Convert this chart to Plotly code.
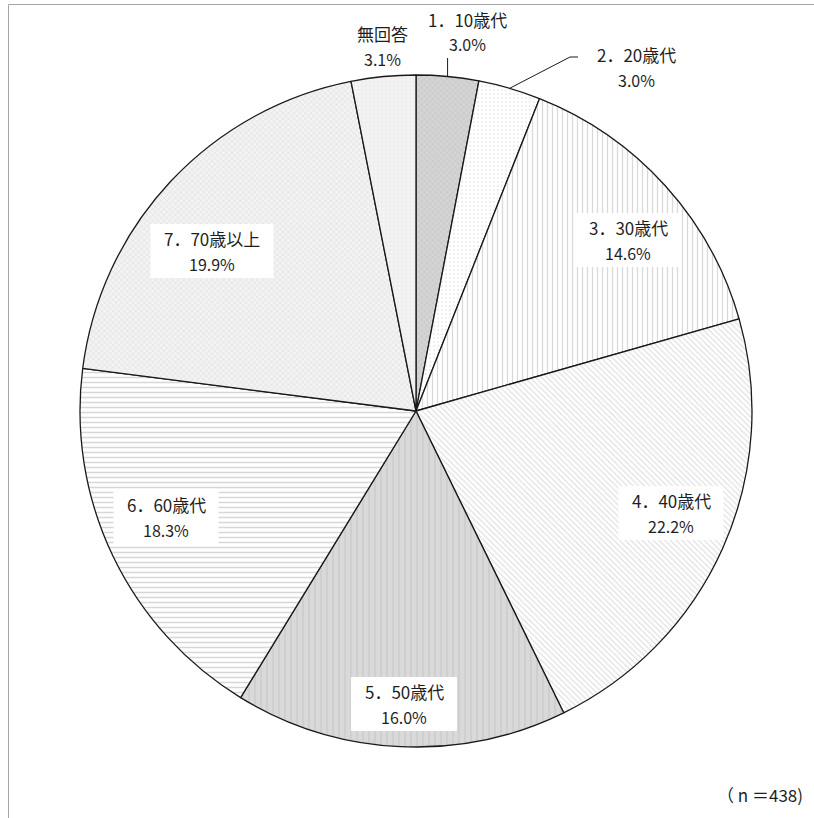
import math
import plotly.graph_objects as go

# data
labels = ["1．10歳代", "2．20歳代", "3．30歳代", "4．40歳代",
          "5．50歳代", "6．60歳代", "7．70歳以上", "無回答"]
values = [3.0, 3.0, 14.6, 22.2, 16.0, 18.3, 19.9, 3.1]
n_total = 438

# page / pie geometry (pixels)
W, H = 814, 818
CX, CY, R = 416, 411, 336

def px(x):
    return x / W

def py(y):
    return 1 - y / H

# slice styles
bg_colors = ["#d4d4d4", "#ffffff", "#ffffff", "#ffffff",
             "#d9d9d9", "#ffffff", "#f3f3f3", "#f4f4f4"]
fg_colors = ["#bcbcbc", "#d4d4d4", "#b4b4b4", "#c2c2c2",
             "#c6c6c6", "#b0b0b0", "#d4d4d4", "#e0e0e0"]
shapes_pat = ["x", ".", "|", "\\", "|", "-", "x", "+"]
sizes_pat = [4, 4, 5, 4, 6, 5, 4, 4]
solid_pat = [0.35, 0.18, 0.25, 0.3, 0.35, 0.3, 0.35, 0.3]

fig = go.Figure()
fig.add_trace(go.Pie(
    labels=labels,
    values=values,
    sort=False,
    direction="clockwise",
    rotation=0,
    textinfo="none",
    hoverinfo="label+percent",
    showlegend=False,
    domain=dict(x=[px(CX - R), px(CX + R)], y=[py(CY + R), py(CY - R)]),
    marker=dict(
        colors=bg_colors,
        line=dict(color="#1a1a1a", width=1.3),
        pattern=dict(shape=shapes_pat, fgcolor=fg_colors, bgcolor=bg_colors,
                     size=sizes_pat, solidity=solid_pat, fillmode="overlay"),
    ),
))

# ------------------------------------------------------
# labels (name + percentage), box centre in pixels
# ------------------------------------------------------
label_pos = [(467, 32), (636, 67), (628, 240), (671, 513),
             (404, 704), (166, 517), (212, 251), (382, 46)]
boxed = [False, False, True, True, True, True, True, False]
box_w = [0, 0, 104, 105, 106, 105, 123, 0]
BOX_H = 54
LINE_GAP = 12.5
TXT = "#1f1f1f"
FONT = "Noto Sans CJK JP"

annotations = []
shapes = []
for i, (lab, v) in enumerate(zip(labels, values)):
    x, y = label_pos[i]
    if boxed[i]:
        shapes.append(dict(type="rect", xref="paper", yref="paper",
                           x0=px(x - box_w[i] / 2), x1=px(x + box_w[i] / 2),
                           y0=py(y + BOX_H / 2), y1=py(y - BOX_H / 2),
                           fillcolor="white", line=dict(width=0), layer="above"))
    annotations.append(dict(x=px(x), y=py(y - LINE_GAP), xref="paper", yref="paper",
                            text=lab, showarrow=False,
                            font=dict(size=17, color=TXT, family=FONT),
                            xanchor="center", yanchor="middle"))
    annotations.append(dict(x=px(x), y=py(y + LINE_GAP), xref="paper", yref="paper",
                            text=f"{v:.1f}%", showarrow=False,
                            font=dict(size=16, color=TXT, family=FONT),
                            xanchor="center", yanchor="middle"))

# leader lines for the two small slices, starting at the slice mid-angle
total = sum(values)
def edge_point(idx):
    mid = sum(values[:idx]) + values[idx] / 2
    th = 2 * math.pi * mid / total
    return CX + R * math.sin(th), CY - R * math.cos(th)

x0, y0 = edge_point(0)
shapes.append(dict(type="line", xref="paper", yref="paper",
                   x0=px(x0), y0=py(y0), x1=px(x0), y1=py(58),
                   line=dict(color="#1a1a1a", width=1)))
x0, y0 = edge_point(1)
shapes.append(dict(type="path", xref="paper", yref="paper",
                   path=f"M {px(x0)},{py(y0)} L {px(570)},{py(57)} L {px(578)},{py(57)}",
                   line=dict(color="#1a1a1a", width=1)))

# outer frame (left and top edges are visible in the picture)
shapes.append(dict(type="line", xref="paper", yref="paper",
                   x0=px(8.5), x1=px(8.5), y0=0, y1=py(4.5),
                   line=dict(color="#a6a6a6", width=1)))
shapes.append(dict(type="line", xref="paper", yref="paper",
                   x0=px(8.5), x1=1, y0=py(4.5), y1=py(4.5),
                   line=dict(color="#a6a6a6", width=1)))

annotations.append(dict(x=px(805), y=py(794), xref="paper", yref="paper",
                        text=f"（ n ＝{n_total})", showarrow=False,
                        font=dict(size=17, color=TXT, family=FONT),
                        xanchor="right", yanchor="middle"))

fig.update_layout(
    width=W, height=H,
    margin=dict(l=0, r=0, t=0, b=0),
    paper_bgcolor="white",
    plot_bgcolor="white",
    shapes=shapes,
    annotations=annotations,
    font=dict(family=FONT),
)

# remove the default page margin so the figure sits at the window origin
fig.write_html("out.html",
               config={"displayModeBar": False},
               post_script="document.body.style.margin='0px';document.body.style.overflow='hidden';")
